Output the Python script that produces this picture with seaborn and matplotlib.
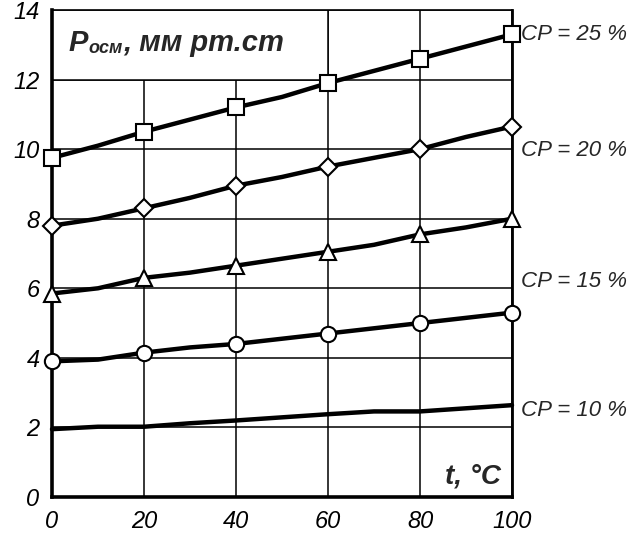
import numpy as np
import pandas as pd
import matplotlib
matplotlib.use("Agg")
import matplotlib.pyplot as plt
from matplotlib.patches import Rectangle
import seaborn as sns

# temperature, deg C
t = [0, 10, 20, 30, 40, 50, 60, 70, 80, 90, 100]

# osmotic pressure curves, mm Hg
p_sq = [9.75, 10.1, 10.5, 10.85, 11.2, 11.5, 11.9, 12.25, 12.6, 12.95, 13.3]
p_dia = [7.8, 8.0, 8.3, 8.6, 8.95, 9.2, 9.5, 9.75, 10.0, 10.35, 10.65]
p_tri = [5.85, 6.0, 6.3, 6.45, 6.65, 6.85, 7.05, 7.25, 7.55, 7.75, 8.0]
p_circ = [3.9, 3.95, 4.15, 4.3, 4.4, 4.55, 4.7, 4.85, 5.0, 5.15, 5.3]
p_base = [1.95, 2.02, 2.02, 2.12, 2.2, 2.29, 2.38, 2.46, 2.46, 2.55, 2.64]

cp_labels = ["CP = 25 %", "CP = 20 %", "CP = 15 %", "CP = 10 %"]
cp_label_y = [13.3, 9.95, 6.2, 2.5]

x_ticks = [0, 20, 40, 60, 80, 100]
y_ticks = [0, 2, 4, 6, 8, 10, 12, 14]

sns.set_theme(style="white")
plt.rcParams["font.family"] = ["Liberation Sans", "DejaVu Sans"]
plt.rcParams["font.style"] = "italic"  # every text on this chart is italic

fig = plt.figure(figsize=(6.39, 5.37), dpi=100)
ax = fig.add_axes([52 / 639, 40 / 537, 460 / 639, 487 / 537])

series = [(p_sq, "s"), (p_dia, "D"), (p_tri, "^"), (p_circ, "o"), (p_base, None)]
for vals, mk in series:
    df = pd.DataFrame({"t": t, "p": vals})
    kw = {}
    if mk is not None:
        kw = dict(marker=mk, markevery=2, markersize=11 if mk != "D" else 9,
                  markerfacecolor="white", markeredgecolor="black",
                  markeredgewidth=1.5)
    sns.lineplot(data=df, x="t", y="p", ax=ax, color="black", linewidth=3.2,
                 zorder=4, clip_on=False, **kw)

ax.set_xlim(0, 100)
ax.set_ylim(0, 14)
ax.set_xticks(x_ticks)
ax.set_yticks(y_ticks)
ax.set_xticklabels([str(v) for v in x_ticks], fontsize=17, fontstyle="italic")
ax.set_yticklabels([str(v) for v in y_ticks], fontsize=17, fontstyle="italic")
ax.tick_params(axis="x", length=0, pad=9, colors="black")
ax.tick_params(axis="y", length=0, pad=9, colors="black")
ax.set_xlabel("")
ax.set_ylabel("")
ax.grid(True, color="black", linewidth=1.1)
ax.set_axisbelow(True)

for side, lw in [("left", 2.6), ("bottom", 2.6), ("right", 2.0), ("top", 1.2)]:
    ax.spines[side].set_visible(True)
    ax.spines[side].set_color("black")
    ax.spines[side].set_linewidth(lw)

# white box behind the y axis title
ax.add_patch(Rectangle((0, 12), 60, 2, facecolor="white", edgecolor="black",
                       linewidth=1.1, zorder=2))
t1 = ax.text(3.5, 13.05, "P", fontsize=21, fontweight="bold", style="italic",
             va="center", ha="left", zorder=5)
t2 = ax.annotate("осм", xy=(1.0, 0.0), xycoords=t1, xytext=(1, 0),
                 textcoords="offset points", fontsize=13, fontweight="bold",
                 style="italic", va="bottom", ha="left", zorder=5)
ax.annotate(", мм рт.ст", xy=(1.0, 0.0), xycoords=t2, xytext=(0, 0),
            textcoords="offset points", fontsize=21, fontweight="bold",
            style="italic", va="bottom", ha="left", zorder=5)

ax.text(97.5, 0.6, "t, °C", fontsize=20, fontweight="bold", style="italic",
        ha="right", va="center", zorder=5)

for lab, yv in zip(cp_labels, cp_label_y):
    ax.text(102, yv, lab, fontsize=16, style="italic", ha="left", va="center",
            clip_on=False)

fig.savefig("out.png", dpi=100, facecolor="white")
